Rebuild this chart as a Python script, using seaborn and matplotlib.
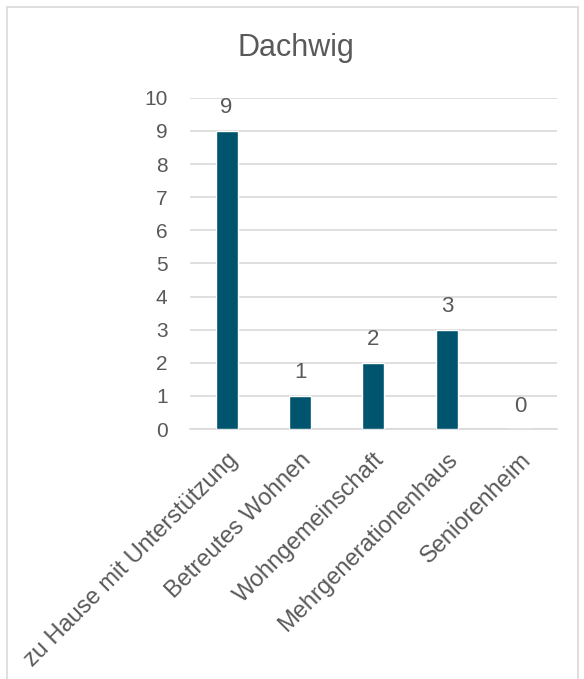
import matplotlib
matplotlib.use('Agg')
import matplotlib.pyplot as plt
import seaborn as sns
import pandas as pd
from matplotlib.lines import Line2D

# Data
categories = ['zu Hause mit Unterstützung', 'Betreutes Wohnen', 'Wohngemeinschaft',
              'Mehrgenerationenhaus', 'Seniorenheim']
counts = [9, 1, 2, 3, 0]
title = 'Dachwig'

df = pd.DataFrame({'Wohnform': categories, 'Anzahl': counts})

sns.set_theme(style='white')
plt.rcParams['font.family'] = ['Liberation Sans', 'DejaVu Sans']

text_color = '#595959'
grid_color = '#D9D9D9'
bar_color = '#00546E'

fig = plt.figure(figsize=(5.84, 6.79), dpi=100)
ax = fig.add_axes([0.325, 0.368, 0.629, 0.488])

sns.barplot(data=df, x='Wohnform', y='Anzahl', color=bar_color, width=0.3,
            saturation=1, ax=ax, zorder=3)

ax.set_ylim(0, 10)
ax.set_yticks(range(0, 11))
ax.yaxis.grid(True, color=grid_color, linewidth=1.2, zorder=0)
ax.set_axisbelow(True)
for s in ['top', 'right', 'left']:
    ax.spines[s].set_visible(False)
ax.spines['bottom'].set_color(grid_color)
ax.spines['bottom'].set_linewidth(1.2)

ax.set_xlabel('')
ax.set_ylabel('')
ax.tick_params(axis='y', labelsize=15, colors=text_color, length=0, pad=16)
ax.tick_params(axis='x', labelsize=17, colors=text_color, length=0, pad=14)
plt.setp(ax.get_xticklabels(), rotation=45, ha='right', rotation_mode='anchor')

for c in ax.containers:
    ax.bar_label(c, labels=[str(v) for v in counts], padding=9, fontsize=16, color=text_color)

fig.text(0.507, 0.93, title, ha='center', va='center', fontsize=22, color=text_color)

# light frame around the chart area
frame_color = '#D9D9D9'
fig.add_artist(Line2D([0.012, 0.012], [0.0, 0.989], transform=fig.transFigure, color=frame_color, lw=1.2))
fig.add_artist(Line2D([0.012, 0.99], [0.989, 0.989], transform=fig.transFigure, color=frame_color, lw=1.2))
fig.add_artist(Line2D([0.99, 0.99], [0.0, 0.989], transform=fig.transFigure, color=frame_color, lw=1.2))

fig.savefig('out.png', dpi=100, facecolor='white')
